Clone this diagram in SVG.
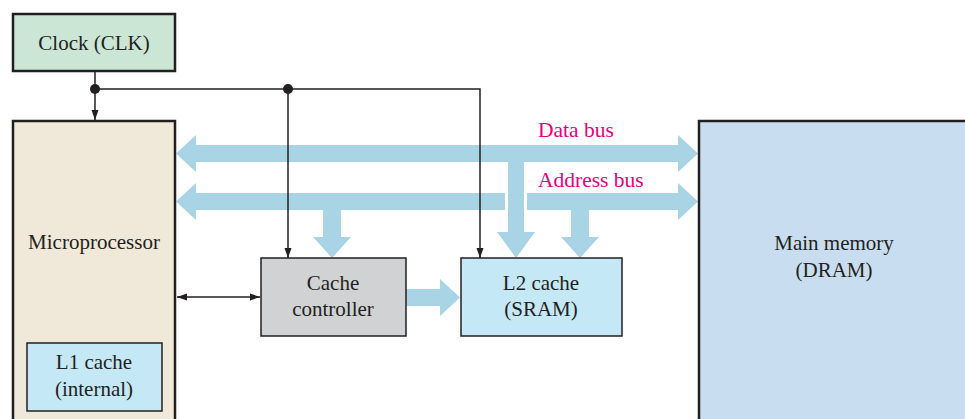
<svg xmlns="http://www.w3.org/2000/svg" width="965" height="419" viewBox="0 0 965 419">
<style>
.box{stroke:#231f20;stroke-width:2.5}
.t{font-family:"Liberation Serif","Times New Roman",serif;font-size:21px;fill:#231f20;text-anchor:middle}
.lbl{font-family:"Liberation Serif","Times New Roman",serif;font-size:21.5px;fill:#e6007e}
.bus{fill:#a9d4e6}
.wire{stroke:#231f20;stroke-width:1.5;fill:none}
</style>
<defs>
<marker id="ah" markerUnits="userSpaceOnUse" markerWidth="10" markerHeight="10" viewBox="0 0 10 10" refX="10" refY="5" orient="auto-start-reverse">
<path d="M0,1.5 L10,5 L0,8.5 Z" fill="#231f20"/>
</marker>
</defs>
<rect width="965" height="419" fill="#fff"/>

<g id="connectors">
<path class="bus" d="M176,153.5 L196,135 L196,145 L678,145 L678,135 L698,153.5 L678,172 L678,162 L524,162 L524,232 L535,232 L516,258 L497,232 L508,232 L508,162 L196,162 L196,172 Z"/>
<path class="bus" d="M176,201.5 L196,183 L196,193 L505,193 L505,210 L341,210 L341,237 L351,237 L332,258 L313,237 L323,237 L323,210 L196,210 L196,220 Z"/>
<path class="bus" d="M527,193 L678,193 L678,183 L698,201.5 L678,220 L678,210 L589,210 L589,237 L599,237 L580,258 L561,237 L571,237 L571,210 L527,210 Z"/>
<path class="bus" d="M406,289 L440,289 L440,279 L460,297.5 L440,316 L440,306 L406,306 Z"/>
<path class="wire" d="M95,71 L95,120" marker-end="url(#ah)"/>
<path class="wire" d="M95,89 L480,89 L480,258" marker-end="url(#ah)"/>
<path class="wire" d="M288,89 L288,258" marker-end="url(#ah)"/>
<path class="wire" d="M177,297 L260,297" marker-start="url(#ah)" marker-end="url(#ah)"/>
<circle cx="95" cy="89" r="5" fill="#231f20"/>
<circle cx="288" cy="89" r="5" fill="#231f20"/>
<text class="lbl" x="538" y="137">Data bus</text>
<text class="lbl" x="538" y="187">Address bus</text>
</g>

<g id="clock">
<rect class="box" x="13" y="14" width="162" height="57" fill="#cce6d6"/>
<text class="t" x="94" y="50">Clock (CLK)</text>
</g>

<g id="microprocessor">
<rect class="box" x="13" y="121" width="162" height="310" fill="#f0e8d8"/>
<text class="t" x="94" y="249">Microprocessor</text>
</g>

<g id="l1cache">
<rect x="27" y="343" width="135" height="68" fill="#c5e8f7" stroke="#231f20" stroke-width="1.5"/>
<text class="t" x="94" y="369">L1 cache</text>
<text class="t" x="94" y="396">(internal)</text>
</g>

<g id="cachecontroller">
<rect x="261" y="258" width="145" height="78" fill="#d1d2d4" stroke="#231f20" stroke-width="1.5"/>
<text class="t" x="333" y="290">Cache</text>
<text class="t" x="333" y="316">controller</text>
</g>

<g id="l2cache">
<rect x="461" y="258" width="161" height="78" fill="#c5e8f7" stroke="#231f20" stroke-width="1.5"/>
<text class="t" x="541" y="290">L2 cache</text>
<text class="t" x="541" y="316">(SRAM)</text>
</g>

<g id="mainmemory">
<rect class="box" x="699" y="121" width="280" height="310" fill="#c8def0"/>
<text class="t" x="834" y="250">Main memory</text>
<text class="t" x="834" y="277">(DRAM)</text>
</g>
</svg>
